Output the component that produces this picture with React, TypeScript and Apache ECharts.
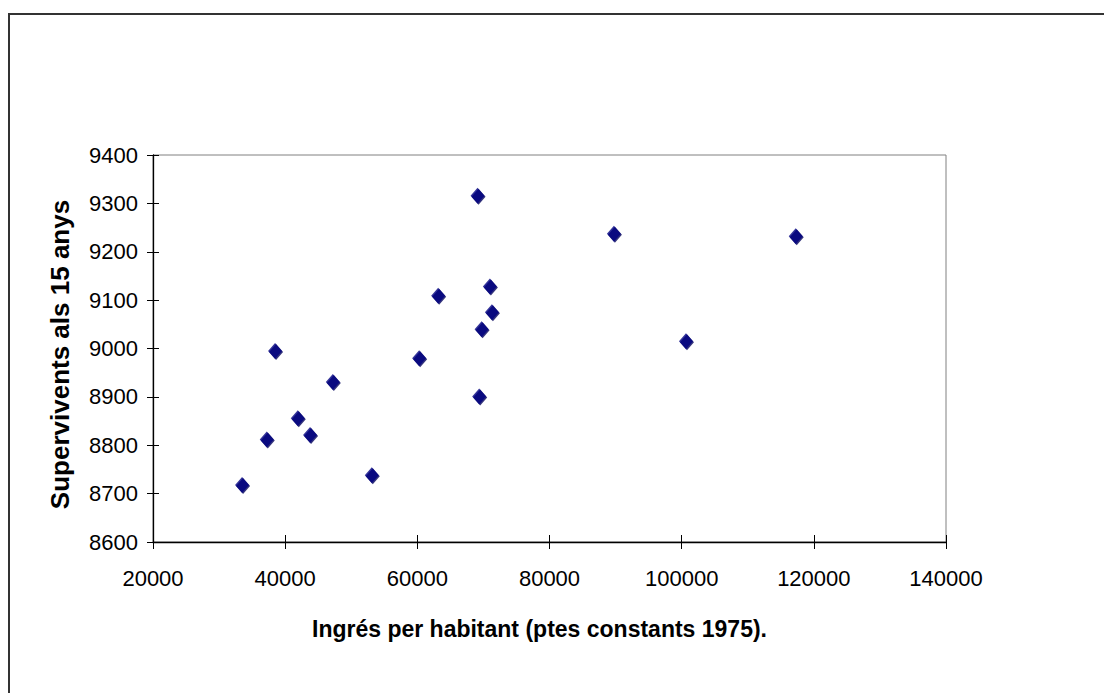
import React, { useEffect, useRef } from "react";
import * as echarts from "echarts";

const incomePerCapita = [
  69114, 70977, 63149, 71281, 69720, 38471, 60272, 47207, 69357,
  41907, 43770, 37214, 53111, 33474, 89750, 117259, 100651,
];
const survivorsAt15 = [
  9316, 9128, 9109, 9075, 9040, 8995, 8980, 8931, 8901,
  8856, 8821, 8812, 8738, 8718, 9237, 9232, 9015,
];
const xTitle = "Ingrés per habitant (ptes constants 1975).";
const yTitle = "Supervivents als 15 anys";

const FONT = "'Liberation Sans', Arial, sans-serif";

export default function App() {
  const ref = useRef<HTMLDivElement>(null);
  useEffect(() => {
    if (!ref.current) return;
    const chart = echarts.init(ref.current, null, { renderer: "svg" });
    const points = incomePerCapita.map((x, i) => [x, survivorsAt15[i]]);
    const plain = (v: number) => String(v);
    const xBase = {
      type: "value",
      min: 20000,
      max: 140000,
      interval: 20000,
      splitLine: { show: false },
    };
    const yBase = {
      type: "value",
      min: 8600,
      max: 9400,
      interval: 100,
      splitLine: { show: false },
    };
    chart.setOption({
      animation: false,
      backgroundColor: "#ffffff",
      grid: {
        left: 153,
        top: 155,
        right: 158,
        bottom: 151,
        show: true,
        borderColor: "#808080",
        borderWidth: 1,
        backgroundColor: "transparent",
      },
      xAxis: [
        {
          ...xBase,
          name: xTitle,
          nameLocation: "middle",
          nameGap: 75,
          nameTextStyle: {
            fontFamily: FONT,
            fontSize: 23,
            fontWeight: "bold",
            color: "#000",
            padding: [0, 20, 0, 0],
          },
          axisLine: { show: true, lineStyle: { color: "#000", width: 1.3 } },
          axisTick: { show: true, inside: false, length: 7, lineStyle: { color: "#000" } },
          axisLabel: {
            fontFamily: FONT,
            fontSize: 22,
            color: "#000",
            margin: 25,
            formatter: plain,
          },
        },
        {
          ...xBase,
          position: "bottom",
          axisLine: { show: false },
          axisTick: { show: true, inside: true, length: 7, lineStyle: { color: "#000" } },
          axisLabel: { show: false },
        },
      ],
      yAxis: [
        {
          ...yBase,
          name: yTitle,
          nameLocation: "middle",
          nameGap: 80,
          nameTextStyle: {
            fontFamily: FONT,
            fontSize: 26,
            fontWeight: "bold",
            color: "#000",
            padding: [0, 12, 0, 0],
          },
          axisLine: { show: true, lineStyle: { color: "#000", width: 1.3 } },
          axisTick: { show: true, inside: false, length: 6, lineStyle: { color: "#000" } },
          axisLabel: {
            fontFamily: FONT,
            fontSize: 22,
            color: "#000",
            margin: 15,
            formatter: plain,
          },
        },
        {
          ...yBase,
          position: "left",
          axisLine: { show: false },
          axisTick: { show: true, inside: true, length: 6, lineStyle: { color: "#000" } },
          axisLabel: { show: false },
        },
      ],
      graphic: [
        {
          type: "polyline",
          shape: { points: [[9, 693], [9, 14], [1104, 14]] },
          style: { stroke: "#333333", lineWidth: 2, fill: null },
          silent: true,
        },
      ],
      series: [
        {
          type: "scatter",
          xAxisIndex: 0,
          yAxisIndex: 0,
          data: points,
          symbol: "diamond",
          symbolSize: [14, 16],
          itemStyle: {
            color: "#000080",
            shadowColor: "#00005a",
            shadowBlur: 0,
            shadowOffsetX: 1,
            shadowOffsetY: 1,
          },
        },
      ],
    });
    return () => chart.dispose();
  }, []);
  return (
    <div
      ref={ref}
      style={{ position: "fixed", left: 0, top: 0, width: 1104, height: 693 }}
    />
  );
}
